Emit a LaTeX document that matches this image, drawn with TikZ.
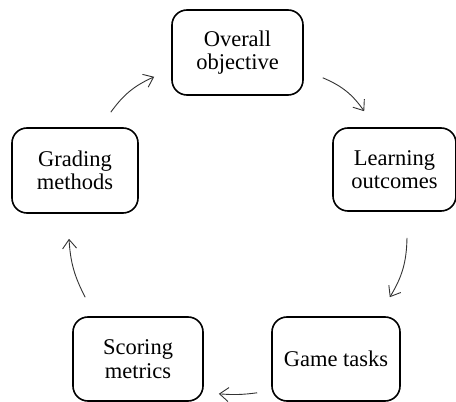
\documentclass[tikz,border=0pt]{standalone}
\usepackage{fontspec}
\setmainfont{Liberation Serif}
\usetikzlibrary{arrows.meta}

\begin{document}
\begin{tikzpicture}[x=1pt, y=1pt,
        etape/.style={draw, line width=1.6pt, rounded corners=15pt, align=center,
            font=\fontsize{22.5}{23.5}\selectfont, inner sep=0pt},
        fleche/.style={line width=0.9pt, draw=black!80,
            -{Straight Barb[length=9pt, width=14pt, line width=0.9pt]}}]
    \useasboundingbox (0, 0) rectangle (456, 402);
    % les cinq etapes du cycle
    \node[etape, minimum width=131pt, minimum height=85pt] (objectif) at (237.5, 349.5) {Overall\\objective};
    \node[etape, minimum width=123pt, minimum height=83pt] (resultats) at (394.5, 232.5) {Learning\\outcomes};
    \node[etape, minimum width=128pt, minimum height=84pt] (taches) at (336, 43) {Game tasks};
    \node[etape, minimum width=130pt, minimum height=84pt] (score) at (138, 43) {Scoring\\metrics};
    \node[etape, minimum width=126pt, minimum height=85pt] (notation) at (75, 231.5) {Grading\\methods};
    % les fleches, elles ne touchent pas les boites
    \draw[fleche] ([xshift=-28, yshift=15]notation.north east) to[bend left=15] ([xshift=-17, yshift=19]objectif.south west);
    \draw[fleche] ([xshift=19, yshift=18]objectif.south east) to[bend left=16] ([xshift=32, yshift=16]resultats.north west);
    \draw[fleche] ([xshift=12.5, yshift=-26]resultats.south) to[bend left=15] ([xshift=-11, yshift=19]taches.north east);
    \draw[fleche] ([xshift=-14, yshift=9]taches.south west) to[bend left=6] ([xshift=15, yshift=8]score.south east);
    \draw[fleche] ([xshift=13, yshift=19]score.north west) to[bend left=12] ([xshift=-6, yshift=-25]notation.south);
\end{tikzpicture}
\end{document}
